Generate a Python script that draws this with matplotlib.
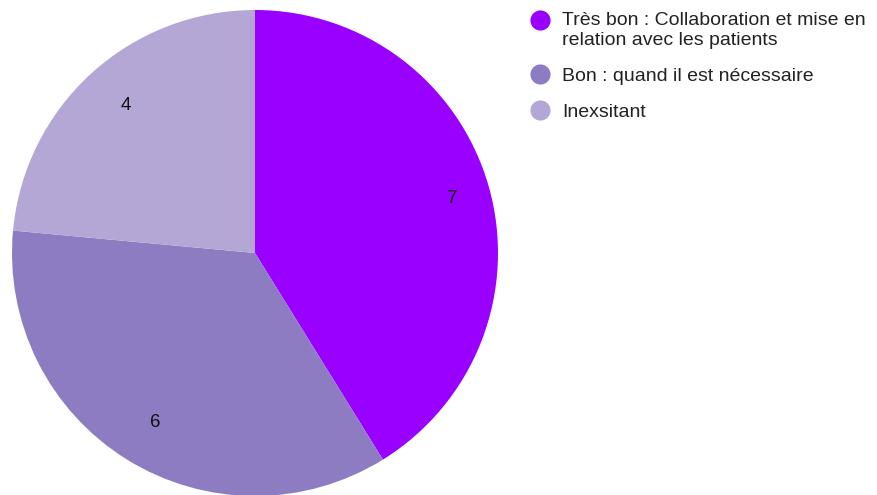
import matplotlib.pyplot as plt
from matplotlib.lines import Line2D

labels = ["Très bon : Collaboration et mise en\nrelation avec les patients",
          "Bon : quand il est nécessaire",
          "Inexsitant"]
values = [7, 6, 4]
colors = ["#9900ff", "#8e7cc3", "#b4a7d6"]

plt.rcParams['font.family'] = ['Liberation Sans', 'DejaVu Sans']

fig = plt.figure(figsize=(8.77, 4.95), dpi=100)
ax = fig.add_axes([0, 0, 1, 1])
ax.set_xlim(0, 877)
ax.set_ylim(0, 495)
ax.set_aspect('equal')
ax.axis('off')

wedges, texts = ax.pie(values, colors=colors, startangle=90, counterclock=False,
                       center=(255, 242), radius=243,
                       labels=[str(v) for v in values], labeldistance=0.82,
                       textprops={'fontsize': 13.5, 'color': '#111111'},
                       wedgeprops={'linewidth': 0})
ax.set_xlim(0, 877)
ax.set_ylim(0, 495)

handles = [Line2D([], [], marker='o', linestyle='', markersize=14.5,
                  markerfacecolor=c, markeredgewidth=0) for c in colors]
leg = fig.legend(handles, labels, loc='upper left',
                 bbox_to_anchor=(530 / 877, 1 - 12 / 495),
                 frameon=False, fontsize=14, handletextpad=0.65, labelspacing=0.95,
                 handlelength=1.0, borderaxespad=0, borderpad=0)
for t in leg.get_texts():
    t.set_linespacing(1.2)
    t.set_color('#222222')

# keep the first marker level with the first line of its two-line label
first = leg.legend_handles[0]
first.set_ydata([y + 7 for y in first.get_ydata()])

plt.savefig('out.png', dpi=100)
